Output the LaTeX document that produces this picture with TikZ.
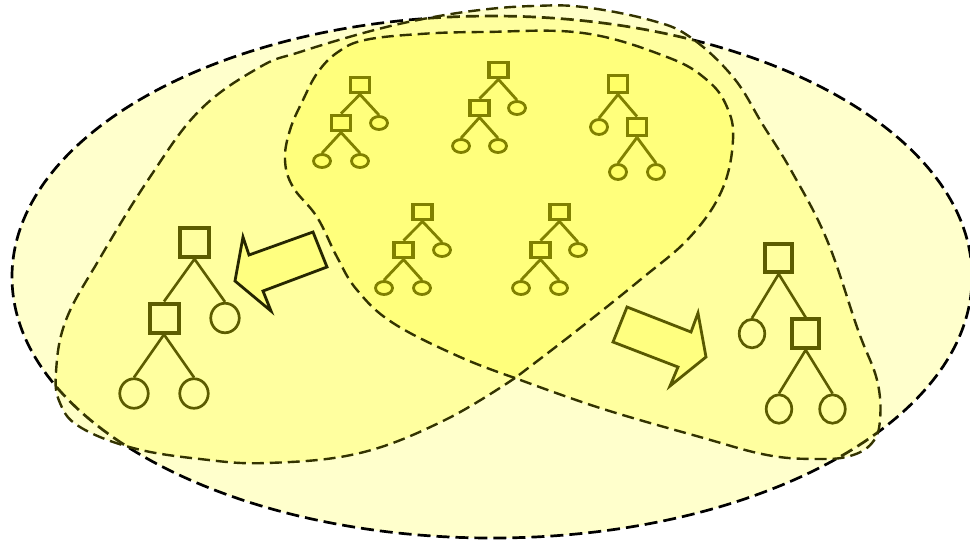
\documentclass[tikz,border=0pt]{standalone}
\usepackage{xcolor}
\usepackage{tikz}
\usetikzlibrary{shapes.geometric}

\definecolor{setfill}{RGB}{255,255,204}
\definecolor{lobefill}{RGB}{255,255,0}
\definecolor{leaffill}{RGB}{255,255,102}
\definecolor{arrowfill}{RGB}{255,255,128}
\definecolor{treeline}{RGB}{128,128,0}
\definecolor{bigline}{RGB}{92,92,0}
\definecolor{lobeline}{RGB}{51,51,0}

\tikzset{
  sq/.style={rectangle, draw=treeline, line width=3.4pt, fill=leaffill, inner sep=0pt, minimum width=19pt, minimum height=15.5pt},
  lf/.style={ellipse, draw=treeline, line width=2.8pt, fill=leaffill, inner sep=0pt, minimum width=17pt, minimum height=13pt},
  br/.style={draw=treeline, line width=2.8pt},
  bigsq/.style={rectangle, draw=bigline, line width=4pt, inner sep=0pt, minimum size=29pt},
  biglf/.style={ellipse, draw=bigline, line width=2.7pt, inner sep=0pt, minimum width=28.5pt, minimum height=29.5pt},
  bigbr/.style={draw=bigline, line width=2.6pt},
  lobe/.style={draw=lobeline, line width=2.4pt, dash pattern=on 12pt off 6pt, fill=lobefill, fill opacity=0.22},
  fatarrow/.style={fill=arrowfill, line width=2.8pt, line join=miter}
}

\begin{document}
\begin{tikzpicture}[x=1pt, y=-1pt]
  \useasboundingbox (0,0) rectangle (970,542);

  % ==== Sets ====

  % whole set
  \draw[line width=2.7pt, dash pattern=on 13pt off 6pt, fill=setfill] (492,277) ellipse [x radius=480pt, y radius=261pt];

  % left and right lobes (outer loop)
  \draw[lobe] plot[smooth, tension=0.65] coordinates {(515,378) (445,420) (360,453) (267,463) (200,459) (133,448) (80,427) (60,403) (56,372) (66,320) (100,258) (150,177) (200,110) (260,67) (300,52) (367,32) (423,19) (480,10) (533,6) (583,7) (650,20) (690,37) (733,77) (763,125) (792,172) (827,240) (858,330) (877,380) (880,420) (872,443) (850,456) (817,459) (767,455) (700,437) (600,408) (515,378)};

  % middle part (inner loop)
  \draw[lobe] plot[smooth, tension=0.65] coordinates {(515,378) (460,357) (393,323) (357,290) (337,257) (317,217) (293,187) (285,160) (290,130) (303,100) (318,72) (338,52) (365,40) (420,34) (483,32) (583,33) (667,57) (707,80) (727,107) (733,140) (722,190) (690,237) (640,280) (575,332) (515,378)};

  % ==== Arrows ====
  \draw[fatarrow, draw={rgb,255:red,38;green,38;blue,0}] (313,232) -- (327,267) -- (263,291) -- (271,311) -- (235,281) -- (243,237) -- (249,255) -- cycle;
  \draw[fatarrow, draw={rgb,255:red,89;green,89;blue,0}] (627,307) -- (691,332) -- (698,313) -- (706,357) -- (670,386) -- (678,367) -- (613,342) -- cycle;

  % ==== Small trees ====

  % tree A
  \node[sq] (a0) at (360,85) {};
  \node[sq] (a1) at (341,123) {};
  \node[lf] (a2) at (379,123) {};
  \node[lf] (a3) at (322,161) {};
  \node[lf] (a4) at (360,161) {};
  \draw[br] (a0.south) -- (a1.north) (a0.south) -- (a2.north) (a1.south) -- (a3.north) (a1.south) -- (a4.north);

  % tree B
  \node[sq] (b0) at (498.5,70) {};
  \node[sq] (b1) at (479.5,108) {};
  \node[lf] (b2) at (517,108) {};
  \node[lf] (b3) at (461,146) {};
  \node[lf] (b4) at (498,146) {};
  \draw[br] (b0.south) -- (b1.north) (b0.south) -- (b2.north) (b1.south) -- (b3.north) (b1.south) -- (b4.north);

  % tree C
  \node[sq, minimum height=17.5pt] (c0) at (618,84) {};
  \node[lf, minimum height=15pt] (c1) at (599,127) {};
  \node[sq, minimum height=17.5pt] (c2) at (637,127) {};
  \node[lf, minimum height=15pt] (c3) at (618,172) {};
  \node[lf, minimum height=15pt] (c4) at (656,172) {};
  \draw[br] (c0.south) -- (c1.north) (c0.south) -- (c2.north) (c2.south) -- (c3.north) (c2.south) -- (c4.north);

  % tree D
  \node[sq] (d0) at (422.5,212) {};
  \node[sq] (d1) at (403.5,250) {};
  \node[lf] (d2) at (442,250) {};
  \node[lf] (d3) at (384,288) {};
  \node[lf] (d4) at (422,288) {};
  \draw[br] (d0.south) -- (d1.north) (d0.south) -- (d2.north) (d1.south) -- (d3.north) (d1.south) -- (d4.north);

  % tree E
  \node[sq] (e0) at (559.5,212) {};
  \node[sq] (e1) at (540.5,250) {};
  \node[lf] (e2) at (578,250) {};
  \node[lf] (e3) at (521,288) {};
  \node[lf] (e4) at (559,288) {};
  \draw[br] (e0.south) -- (e1.north) (e0.south) -- (e2.north) (e1.south) -- (e3.north) (e1.south) -- (e4.north);

  % ==== Big trees ====

  % left result
  \node[bigsq] (p0) at (194.5,242.5) {};
  \node[bigsq] (p1) at (164,318) {};
  \node[biglf] (p2) at (225,318) {};
  \node[biglf] (p3) at (134,393.5) {};
  \node[biglf] (p4) at (194,393.5) {};
  \draw[bigbr] (p0.south) -- (p1.north) (p0.south) -- (p2.north) (p1.south) -- (p3.north) (p1.south) -- (p4.north);

  % right result
  \node[bigsq, minimum width=27pt, minimum height=28pt] (q0) at (778.7,258) {};
  \node[biglf, minimum width=25.5pt, minimum height=28.5pt] (q1) at (752,333.6) {};
  \node[bigsq, minimum width=27pt, minimum height=28.5pt] (q2) at (805.7,333.7) {};
  \node[biglf, minimum width=25.5pt, minimum height=28.5pt] (q3) at (779,409) {};
  \node[biglf, minimum width=25.5pt, minimum height=28.5pt] (q4) at (832.5,409) {};
  \draw[bigbr] (q0.south) -- (q1.north) (q0.south) -- (q2.north) (q2.south) -- (q3.north) (q2.south) -- (q4.north);
\end{tikzpicture}
\end{document}
